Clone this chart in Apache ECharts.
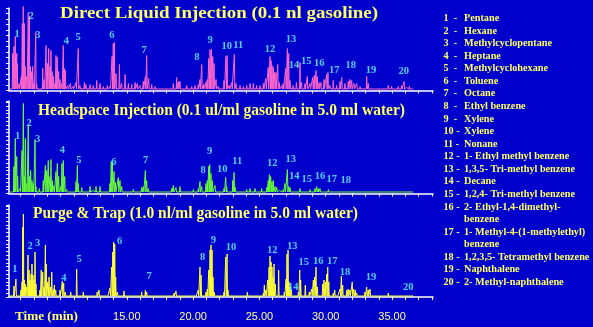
<!DOCTYPE html>
<html><head><meta charset="utf-8">
<script src="https://cdn.jsdelivr.net/npm/echarts@6/dist/echarts.min.js"></script>
<style>html,body{margin:0;padding:0;background:#0000CC;overflow:hidden}#c{width:593px;height:327px}</style>
</head><body><div id="c"></div><script>
// ---------------- DATA ----------------
const panelTitles = [
  'Direct Liquid Injection (0.1 nl gasoline)',
  'Headspace Injection (0.1 ul/ml gasoline in 5.0 ml water)',
  'Purge & Trap (1.0 nl/ml gasoline in 5.0 ml water)'
];
const axisTitle = 'Time (min)';
const timeTickLabels = [15, 20, 25, 30, 35];
const minuteTicks = [7,8,9,10,11,12,13,14,15,16,17,18,19,20,21,22,23,24,25,26,27,28,29,30,31,32,33,34,35,36,37,38];
const timeRange = [6.116, 38.09];
const traceStart = 6.2, traceEnd = 36.6;
const traceBase = [1.5, 1.5, 1.0];

// peaks [time(min), height]
const p1Peaks = [[6.39,37],[6.49,44],[6.59,54],[6.70,37],[6.74,27],[6.89,7],[7.04,14],[7.12,67],[7.19,84],[7.27,67],[7.34,24],[7.45,14],[7.57,78],[7.65,74],[7.72,24],[7.83,19],[7.90,24],[8.00,7],[8.13,58],[8.20,7],[8.38,3],[8.66,22],[8.78,11],[8.91,45],[9.01,27],[9.11,42],[9.21,24],[9.28,40],[9.38,19],[9.46,14],[9.58,7],[9.66,35],[9.76,33],[9.86,19],[9.96,11],[10.09,7],[10.21,45],[10.29,22],[10.36,20],[10.55,5],[10.75,7],[10.95,4],[11.17,8],[11.34,42],[11.47,5],[11.80,8],[11.92,6],[12.23,6],[12.47,5],[12.73,10],[12.98,7],[13.23,4],[13.53,5],[13.73,4],[13.89,34],[13.98,47],[14.06,48],[14.19,17],[14.44,26],[14.61,7],[14.87,16],[15.12,7],[15.37,6],[15.62,8],[15.80,7],[16.00,5],[16.24,9],[16.40,14],[16.50,35],[16.65,12],[16.88,6],[17.13,4],[17.5,2],[17.9,2],[18.2,2],[18.51,7],[18.76,13],[18.89,9],[19.01,9],[19.25,2],[19.52,5],[19.89,4],[20.14,5],[20.39,6],[20.52,11],[20.65,26],[20.77,6],[20.95,8],[21.07,11],[21.18,32],[21.28,41],[21.38,41],[21.48,34],[21.58,27],[21.73,11],[21.90,4],[22.0,3],[22.33,10],[22.48,34],[22.56,35],[22.72,5],[22.91,8],[23.11,36],[23.24,7],[23.54,5],[23.79,4],[24.04,5],[24.29,7],[24.54,7],[24.79,5],[25.05,5],[25.30,7],[25.48,12],[25.67,23],[25.80,34],[25.88,30],[25.95,25],[26.05,23],[26.15,18],[26.25,18],[26.38,26],[26.50,8],[26.70,5],[26.80,7],[26.98,22],[27.11,42],[27.21,37],[27.31,10],[27.54,5],[27.79,8],[28.06,28],[28.18,8],[28.44,7],[28.61,14],[28.82,7],[29.02,13],[29.14,15],[29.27,20],[29.37,14],[29.50,8],[29.64,8],[29.87,11],[30.07,16],[30.17,18],[30.32,5],[30.57,10],[30.82,5],[31.08,9],[31.21,13],[31.45,7],[31.70,9],[31.83,11],[31.96,10],[32.13,7],[32.34,7],[32.59,4],[32.84,3],[33.09,14],[33.21,7],[33.47,3],[33.8,2],[34.2,2],[34.72,5],[34.97,4],[35.22,3],[35.47,4],[35.72,5],[35.91,9],[36.10,3],[36.30,4]];

const p2Peaks = [[6.49,27],[6.59,55],[6.70,37],[6.77,17],[6.95,5],[7.10,43],[7.20,90],[7.27,17],[7.35,55],[7.45,10],[7.57,68],[7.65,17],[7.75,23],[7.85,13],[7.95,10],[8.08,54],[8.15,7],[8.40,5],[8.70,13],[8.86,28],[8.96,23],[9.08,33],[9.21,17],[9.28,34],[9.38,13],[9.51,8],[9.66,22],[9.76,30],[9.86,17],[10.02,7],[10.11,30],[10.21,33],[10.32,17],[10.47,4],[10.72,3],[10.95,2],[11.17,12],[11.27,28],[11.34,10],[11.60,6],[11.9,3],[12.23,7],[12.45,3],[12.68,7],[12.98,7],[13.3,3],[13.73,10],[13.83,32],[13.91,31],[14.04,22],[14.14,11],[14.36,16],[14.49,13],[14.62,7],[15.0,2],[15.49,4],[15.8,2],[16.12,6],[16.25,7],[16.40,23],[16.50,13],[16.62,5],[17.0,2],[17.5,1.5],[17.88,3],[18.39,5],[18.51,8],[18.71,6],[19.01,7],[19.3,2],[19.7,1.5],[20.02,4],[20.39,5],[20.52,12],[20.65,7],[20.97,10],[21.07,13],[21.18,27],[21.25,29],[21.35,20],[21.45,13],[21.65,8],[21.9,3],[22.1,2],[22.33,5],[22.46,16],[22.53,7],[22.8,3],[22.99,13],[23.09,21],[23.18,6],[23.5,3],[24.04,4],[24.29,5],[24.67,5],[24.9,3],[25.17,5],[25.55,6],[25.67,13],[25.75,19],[25.85,17],[25.95,12],[26.05,13],[26.18,7],[26.31,6],[26.5,3],[26.80,4],[26.93,10],[27.11,24],[27.21,7],[27.31,6],[27.6,2],[28.06,5],[28.4,2],[28.82,4],[29.19,5],[29.32,7],[29.44,5],[29.57,5],[29.8,3],[30.20,4],[30.70,3],[31.21,2]];

const p3Peaks = [[6.49,11],[6.64,18],[7.02,7],[7.10,15],[7.15,70],[7.20,83],[7.27,17],[7.35,13],[7.45,10],[7.55,42],[7.63,27],[7.70,17],[7.78,23],[7.85,33],[7.93,22],[8.00,17],[8.08,45],[8.15,13],[8.45,7],[8.55,27],[8.66,25],[8.76,10],[8.86,52],[8.93,33],[9.04,15],[9.14,20],[9.26,10],[9.34,25],[9.46,8],[9.54,12],[9.64,7],[9.96,7],[10.14,16],[10.24,14],[10.36,5],[10.77,5],[11.22,28],[11.72,5],[12.2,2],[12.77,5],[12.90,7],[13.61,3],[13.73,9],[13.86,30],[13.94,45],[14.01,55],[14.09,53],[14.16,20],[14.29,5],[14.79,6],[15.3,2],[16.12,5],[16.40,7],[16.50,5],[17.0,2],[18.56,4],[18.71,6],[20.27,3],[20.39,7],[20.52,30],[20.60,22],[20.97,5],[21.07,8],[21.18,27],[21.28,47],[21.35,52],[21.43,47],[21.50,20],[21.60,5],[22.33,5],[22.46,40],[22.56,43],[22.63,7],[23.54,3],[24.09,5],[25.05,3],[25.30,4],[25.37,12],[25.48,7],[25.63,17],[25.73,30],[25.80,41],[25.88,35],[25.95,30],[26.03,20],[26.10,33],[26.20,13],[26.45,27],[26.88,5],[27.01,18],[27.08,43],[27.16,47],[27.23,15],[27.31,10],[27.41,7],[27.94,5],[28.04,27],[28.11,17],[28.46,12],[28.76,5],[28.94,8],[29.07,17],[29.17,20],[29.27,30],[29.37,10],[29.77,13],[29.87,17],[29.97,15],[30.07,23],[30.15,30],[30.23,15],[30.57,4],[30.68,7],[30.95,3],[31.08,8],[31.18,21],[31.28,12],[31.58,7],[31.70,8],[31.83,7],[32.00,15],[32.11,8],[32.23,7],[32.34,4],[32.72,3],[32.96,5],[33.09,10],[33.21,7],[33.34,8],[33.47,3],[34.22,2],[34.72,4],[35.35,3],[35.91,3]];

// peak number labels [time, height, text]
const p1Labels = [[6.72,56.5,'1'],[7.78,74.5,'2'],[8.30,55.5,'3'],[10.45,49.5,'4'],[11.32,53.5,'5'],[13.88,55.5,'6'],[16.30,40.5,'7'],[20.29,33.5,'8'],[21.28,50.5,'9'],[22.53,44.5,'10'],[23.41,45.5,'11'],[25.80,41.5,'12'],[27.38,51.5,'13'],[27.61,25.5,'14'],[28.54,29.5,'15'],[29.52,27.5,'16'],[30.65,20.5,'17'],[31.88,25.5,'18'],[33.42,20.5,'19'],[35.88,19.5,'20']];
const p2Labels = [[6.76,57,'1'],[7.64,70.3,'2'],[8.27,54.6,'3'],[10.15,43,'4'],[11.38,33.6,'5'],[14.02,31.3,'6'],[16.41,32.8,'7'],[20.75,23.6,'8'],[21.25,42,'9'],[22.20,24.6,'10'],[23.33,32.1,'11'],[25.97,30.3,'12'],[27.36,34,'13'],[27.63,17,'14'],[28.57,13.8,'15'],[29.57,16.8,'16'],[30.45,14,'17'],[31.51,13,'18']];
const p3Labels = [[6.55,27.7,'1'],[7.70,50.4,'2'],[8.27,53.7,'3'],[10.26,18.7,'4'],[11.40,37.7,'5'],[14.46,55.4,'6'],[16.68,20.7,'7'],[20.72,40,'8'],[21.53,57,'9'],[22.86,49.7,'10'],[25.97,46.4,'12'],[27.48,51.2,'13'],[27.56,9.7,'14'],[28.34,34.7,'15'],[29.44,35.4,'16'],[30.50,36,'17'],[31.46,25,'18'],[33.42,19.4,'19'],[36.23,9.4,'20']];

const legendNums = ['1','2','3','4','5','6','7','8','9','10','11','12','13','14','15','16','17','18','19','20'];
const legendNames = ['Pentane','Hexane','Methylcyclopentane','Heptane','Methylcyclohexane','Toluene','Octane','Ethyl benzene','Xylene','Xylene','Nonane','1- Ethyl methyl benzene','1,3,5- Tri-methyl benzene','Decane','1,2,4- Tri-methyl benzene','2- Ethyl-1,4-dimethyl-\nbenzene','1- Methyl-4-(1-methylethyl)\nbenzene','1,2,3,5- Tetramethyl benzene','Naphthalene','2- Methyl-naphthalene'];

// ---------------- LAYOUT / STYLE ----------------
const BG = '#0000CC';
const traceColors = ['#FF66CC', '#66FF33', '#FFFF33'];
const labelColor = '#66FFFF';
const titleColor = '#FFFF66';
const grids = [
  {left: 9, right: 160, top: 8, height: 82.5},
  {left: 9, right: 160, top: 101, height: 92.5},
  {left: 9, right: 160, top: 205, height: 92}
];
const yTickStep = [5.5, 3.8, 3.8];
const titleLayout = [{x: 60, y: 14, w: 318}, {x: 38, y: 110.5, w: 367}, {x: 33, y: 213.5, w: 325}];

const mctx = document.createElement('canvas').getContext('2d');
function measure(text, font) { mctx.font = font; return mctx.measureText(text).width; }

function buildTrace(peaks, base) {
  const w = 0.035;
  const out = [[traceStart, base]];
  const s = peaks.slice().sort((a, b) => a[0] - b[0]);
  for (let i = 0; i < s.length; i++) {
    const t = s[i][0];
    const prevT = i > 0 ? s[i - 1][0] : null;
    if (prevT === null || t - prevT > 2 * w) out.push([t - w, base]);
    else out.push([(t + prevT) / 2, base]);
    out.push([t, s[i][1]]);
    const nextT = i < s.length - 1 ? s[i + 1][0] : null;
    if (nextT === null || nextT - t > 2 * w) out.push([t + w, base]);
  }
  out.push([traceEnd, base]);
  return out;
}

const allPeaks = [p1Peaks, p2Peaks, p3Peaks];
const allLabels = [p1Labels, p2Labels, p3Labels];

const xAxes = grids.map((g, i) => ({
  gridIndex: i, type: 'value', min: timeRange[0], max: timeRange[1],
  axisLine: {show: true, onZero: false, lineStyle: {color: '#FFFFFF', width: 1.5}},
  axisTick: {show: true, customValues: minuteTicks, length: 3, lineStyle: {color: '#FFFFFF', width: 1}},
  axisLabel: {show: i === 2, customValues: timeTickLabels, formatter: v => Number(v).toFixed(2),
    color: '#FFFF99', fontFamily: 'Liberation Sans', fontSize: 11, margin: 14},
  splitLine: {show: false}
}));
const yAxes = grids.map((g, i) => ({
  gridIndex: i, type: 'value', min: 0, max: g.height, interval: yTickStep[i],
  axisLine: {show: true, onZero: false, lineStyle: {color: '#FFFFFF', width: 1.5}},
  axisTick: {show: true, length: 3, lineStyle: {color: '#FFFFFF', width: 1}},
  axisLabel: {show: false}, splitLine: {show: false}
}));

const series = [];
allPeaks.forEach((pk, i) => {
  series.push({
    type: 'line', xAxisIndex: i, yAxisIndex: i, data: buildTrace(pk, traceBase[i]),
    symbol: 'none', clip: false, lineStyle: {color: traceColors[i], width: 1}, z: 3
  });
  series.push({
    type: 'scatter', xAxisIndex: i, yAxisIndex: i, data: allLabels[i], symbolSize: 0, z: 4,
    label: {show: true, position: 'inside', formatter: p => p.data[2], color: labelColor,
      fontFamily: 'Liberation Serif', fontWeight: 'bold', fontSize: 10.5}
  });
});

const graphic = [];
const titleFont = 'bold 16px "Liberation Serif"';
panelTitles.forEach((t, i) => {
  const L = titleLayout[i];
  const sx = L.w / measure(t, titleFont);
  graphic.push({type: 'text', x: L.x, y: L.y, scaleX: sx, z: 10,
    style: {text: t, font: titleFont, fill: titleColor, align: 'left', verticalAlign: 'middle',
      textShadowColor: '#000033', textShadowOffsetX: 1, textShadowOffsetY: 1, textShadowBlur: 0}});
});
const axFont = 'bold 13px "Liberation Serif"';
graphic.push({type: 'text', x: 15, y: 316.5, scaleX: 63 / measure(axisTitle, axFont), z: 10,
  style: {text: axisTitle, font: axFont, fill: titleColor, align: 'left', verticalAlign: 'middle',
    textShadowColor: '#000033', textShadowOffsetX: 1, textShadowOffsetY: 1, textShadowBlur: 0}});

const legFont = 'bold 10.5px "Liberation Serif"';
const legScale = 88 / measure('Methylcyclopentane', legFont);
let row = 0;
legendNames.forEach((nm, i) => {
  const lines = nm.split('\n');
  const y0 = 18.3 + row * 12.57;
  graphic.push({type: 'text', x: 443.5, y: y0, scaleX: legScale, z: 10,
    style: {text: legendNums[i] + (legendNums[i].length > 1 ? ' -' : '  -'), font: legFont, fill: titleColor, align: 'left', verticalAlign: 'middle'}});
  lines.forEach((ln, k) => {
    graphic.push({type: 'text', x: 464, y: y0 + k * 12.57, scaleX: legScale, z: 10,
      style: {text: ln, font: legFont, fill: titleColor, align: 'left', verticalAlign: 'middle'}});
  });
  row += lines.length;
});

const chart = echarts.init(document.getElementById('c'), null, {renderer: 'canvas'});
chart.setOption({
  backgroundColor: BG, animation: false,
  grid: grids, xAxis: xAxes, yAxis: yAxes, series: series, graphic: graphic
});
</script></body></html>
